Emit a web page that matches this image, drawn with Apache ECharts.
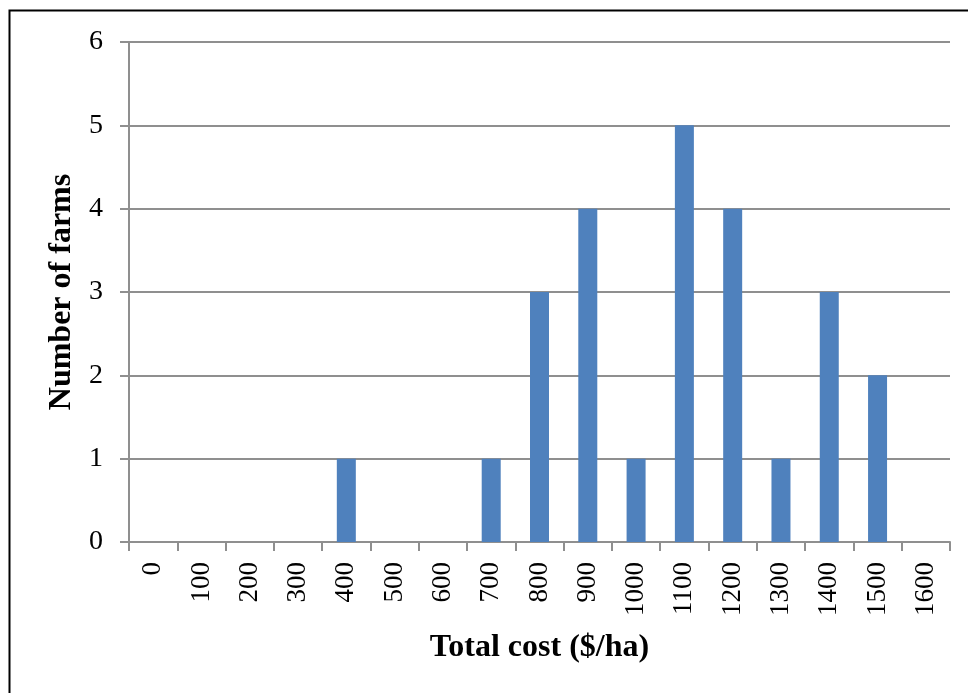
<!DOCTYPE html>
<html>
<head>
<meta charset="utf-8">
<script src="https://cdn.jsdelivr.net/npm/echarts@6/dist/echarts.min.js"></script>
<style>
  html, body { margin: 0; padding: 0; background: #fff; }
  #chart { width: 968px; height: 693px; }
</style>
</head>
<body>
<div id="chart"></div>
<script>
// Cost classes ($/ha) and farm counts per class
const costClasses = ['0', '100', '200', '300', '400', '500', '600', '700', '800',
  '900', '1000', '1100', '1200', '1300', '1400', '1500', '1600'];
const farmCounts = [0, 0, 0, 0, 1, 0, 0, 1, 3, 4, 1, 5, 4, 1, 3, 2, 0];
const countTicks = [0, 1, 2, 3, 4, 5, 6];

const serif = '"Liberation Serif", "DejaVu Serif", serif';
const axisGray = '#8f8f8f';

const chart = echarts.init(document.getElementById('chart'), null, { renderer: 'canvas' });
chart.setOption({
  animation: false,
  backgroundColor: '#fff',
  graphic: [{
    type: 'rect',
    shape: { x: 9.5, y: 10.5, width: 1200, height: 1200 },
    style: { fill: 'none', stroke: '#000', lineWidth: 2 },
    silent: true
  }],
  grid: { left: 129, top: 42, right: 18, bottom: 151, containLabel: false },
  xAxis: {
    type: 'category',
    data: costClasses,
    boundaryGap: true,
    name: 'Total cost ($/ha)',
    nameLocation: 'middle',
    nameGap: 90,
    nameTextStyle: { fontFamily: serif, fontSize: 32, fontWeight: 'bold', color: '#000' },
    axisLine: { lineStyle: { color: axisGray, width: 2 } },
    axisTick: { show: true, length: 9, alignWithLabel: false, lineStyle: { color: axisGray, width: 2 } },
    axisLabel: { rotate: 90, margin: 20, interval: 0, fontFamily: serif, fontSize: 27, color: '#000' },
    splitLine: { show: false }
  },
  yAxis: {
    type: 'value',
    min: countTicks[0],
    max: countTicks[countTicks.length - 1],
    interval: 1,
    name: 'Number of farms',
    nameLocation: 'middle',
    nameGap: 51,
    nameRotate: 90,
    nameTextStyle: { fontFamily: serif, fontSize: 32, fontWeight: 'bold', color: '#000' },
    axisLine: { show: true, lineStyle: { color: axisGray, width: 2 } },
    axisTick: { show: true, length: 9, lineStyle: { color: axisGray, width: 2 } },
    axisLabel: { margin: 26, fontFamily: serif, fontSize: 28, color: '#000' },
    splitLine: { show: true, lineStyle: { color: axisGray, width: 2 } }
  },
  series: [{
    type: 'bar',
    data: farmCounts,
    barWidth: 19,
    itemStyle: { color: '#4f81bd' }
  }]
});
</script>
</body>
</html>
